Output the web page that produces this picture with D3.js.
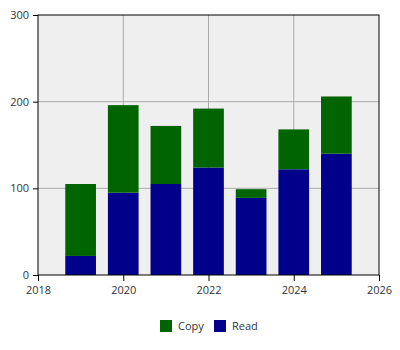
<!DOCTYPE html>
<html lang="en">
<head>
    <meta charset="UTF-8">
    <title>Copy / Read by year</title>
    <style>
        body { margin: 0; background: #fff; }
        svg text { font-family: "Open Sans", "Noto Sans", sans-serif; fill: #333; }
    </style>
</head>
<body>
    <svg id="chart" width="400" height="350"></svg>

    <script src="https://d3js.org/d3.v7.min.js"></script>
    <script>
        const years = [2019, 2020, 2021, 2022, 2023, 2024, 2025];
        const readValues = [22, 95, 105, 124, 89, 122, 140];
        const copyValues = [83, 101, 67, 68, 10, 46, 66];
        const seriesNames = ["Copy", "Read"];
        const seriesColors = ["#006400", "#00008b"];
        const yTicks = [0, 100, 200, 300];
        const xTicks = [2018, 2020, 2022, 2024, 2026];

        const width = 400;
        const height = 350;
        const margin = {top: 15, right: 21, bottom: 75, left: 38};

        const svg = d3.select("#chart");

        const data = years.map((y, i) => ({year: y, Read: readValues[i], Copy: copyValues[i]}));
        const stacked = d3.stack().keys(["Read", "Copy"])(data);

        const x = d3.scaleLinear()
            .domain([2018, 2026])
            .range([margin.left, width - margin.right]);

        const y = d3.scaleLinear()
            .domain([0, 300])
            .range([height - margin.bottom, margin.top]);

        const barW = (x(2020) - x(2019)) * 0.72;

        // plot background
        svg.append("rect")
            .attr("x", margin.left)
            .attr("y", margin.top)
            .attr("width", width - margin.left - margin.right)
            .attr("height", height - margin.top - margin.bottom)
            .attr("fill", "#efefef");

        // grid
        svg.append("g")
            .selectAll("line")
            .data(yTicks.slice(1, -1))
            .join("line")
            .attr("x1", margin.left)
            .attr("x2", width - margin.right)
            .attr("y1", d => y(d))
            .attr("y2", d => y(d))
            .attr("stroke", "#aaa");

        svg.append("g")
            .selectAll("line")
            .data(xTicks.slice(1, -1))
            .join("line")
            .attr("x1", d => x(d))
            .attr("x2", d => x(d))
            .attr("y1", margin.top)
            .attr("y2", height - margin.bottom)
            .attr("stroke", "#aaa");

        const color = {Read: seriesColors[1], Copy: seriesColors[0]};

        svg.append("g")
            .selectAll("g")
            .data(stacked)
            .join("g")
            .attr("fill", d => color[d.key])
            .selectAll("rect")
            .data(d => d)
            .join("rect")
            .attr("x", d => x(d.data.year) - barW / 2)
            .attr("y", d => y(d[1]))
            .attr("width", barW)
            .attr("height", d => y(d[0]) - y(d[1]));

        // frame
        svg.append("rect")
            .attr("x", margin.left)
            .attr("y", margin.top)
            .attr("width", width - margin.left - margin.right)
            .attr("height", height - margin.top - margin.bottom)
            .attr("fill", "none")
            .attr("stroke", "#000");

        const xAxis = svg.append("g")
            .attr("transform", `translate(0, ${height - margin.bottom})`)
            .call(d3.axisBottom(x).tickValues(xTicks).tickFormat(d3.format("d")).tickSize(6).tickPadding(5));

        const yAxis = svg.append("g")
            .attr("transform", `translate(${margin.left}, 0)`)
            .call(d3.axisLeft(y).tickValues(yTicks).tickSize(5).tickPadding(4));

        [xAxis, yAxis].forEach(a => {
            a.select(".domain").remove();
            a.selectAll("line").attr("stroke", "#000");
            a.selectAll("text").attr("font-size", 11).attr("fill", "#333")
                .style("font-family", "'Open Sans', 'Noto Sans', sans-serif");
        });

        // legend
        const legend = svg.append("g").attr("transform", "translate(160, 320)");
        const offsets = [0, 54];
        seriesNames.forEach((name, i) => {
            const g = legend.append("g").attr("transform", `translate(${offsets[i]}, 0)`);
            g.append("rect")
                .attr("width", 12)
                .attr("height", 12)
                .attr("fill", seriesColors[i]);
            g.append("text")
                .attr("x", 18)
                .attr("y", 10)
                .attr("font-size", 11)
                .text(name);
        });
    </script>
</body>
</html>
